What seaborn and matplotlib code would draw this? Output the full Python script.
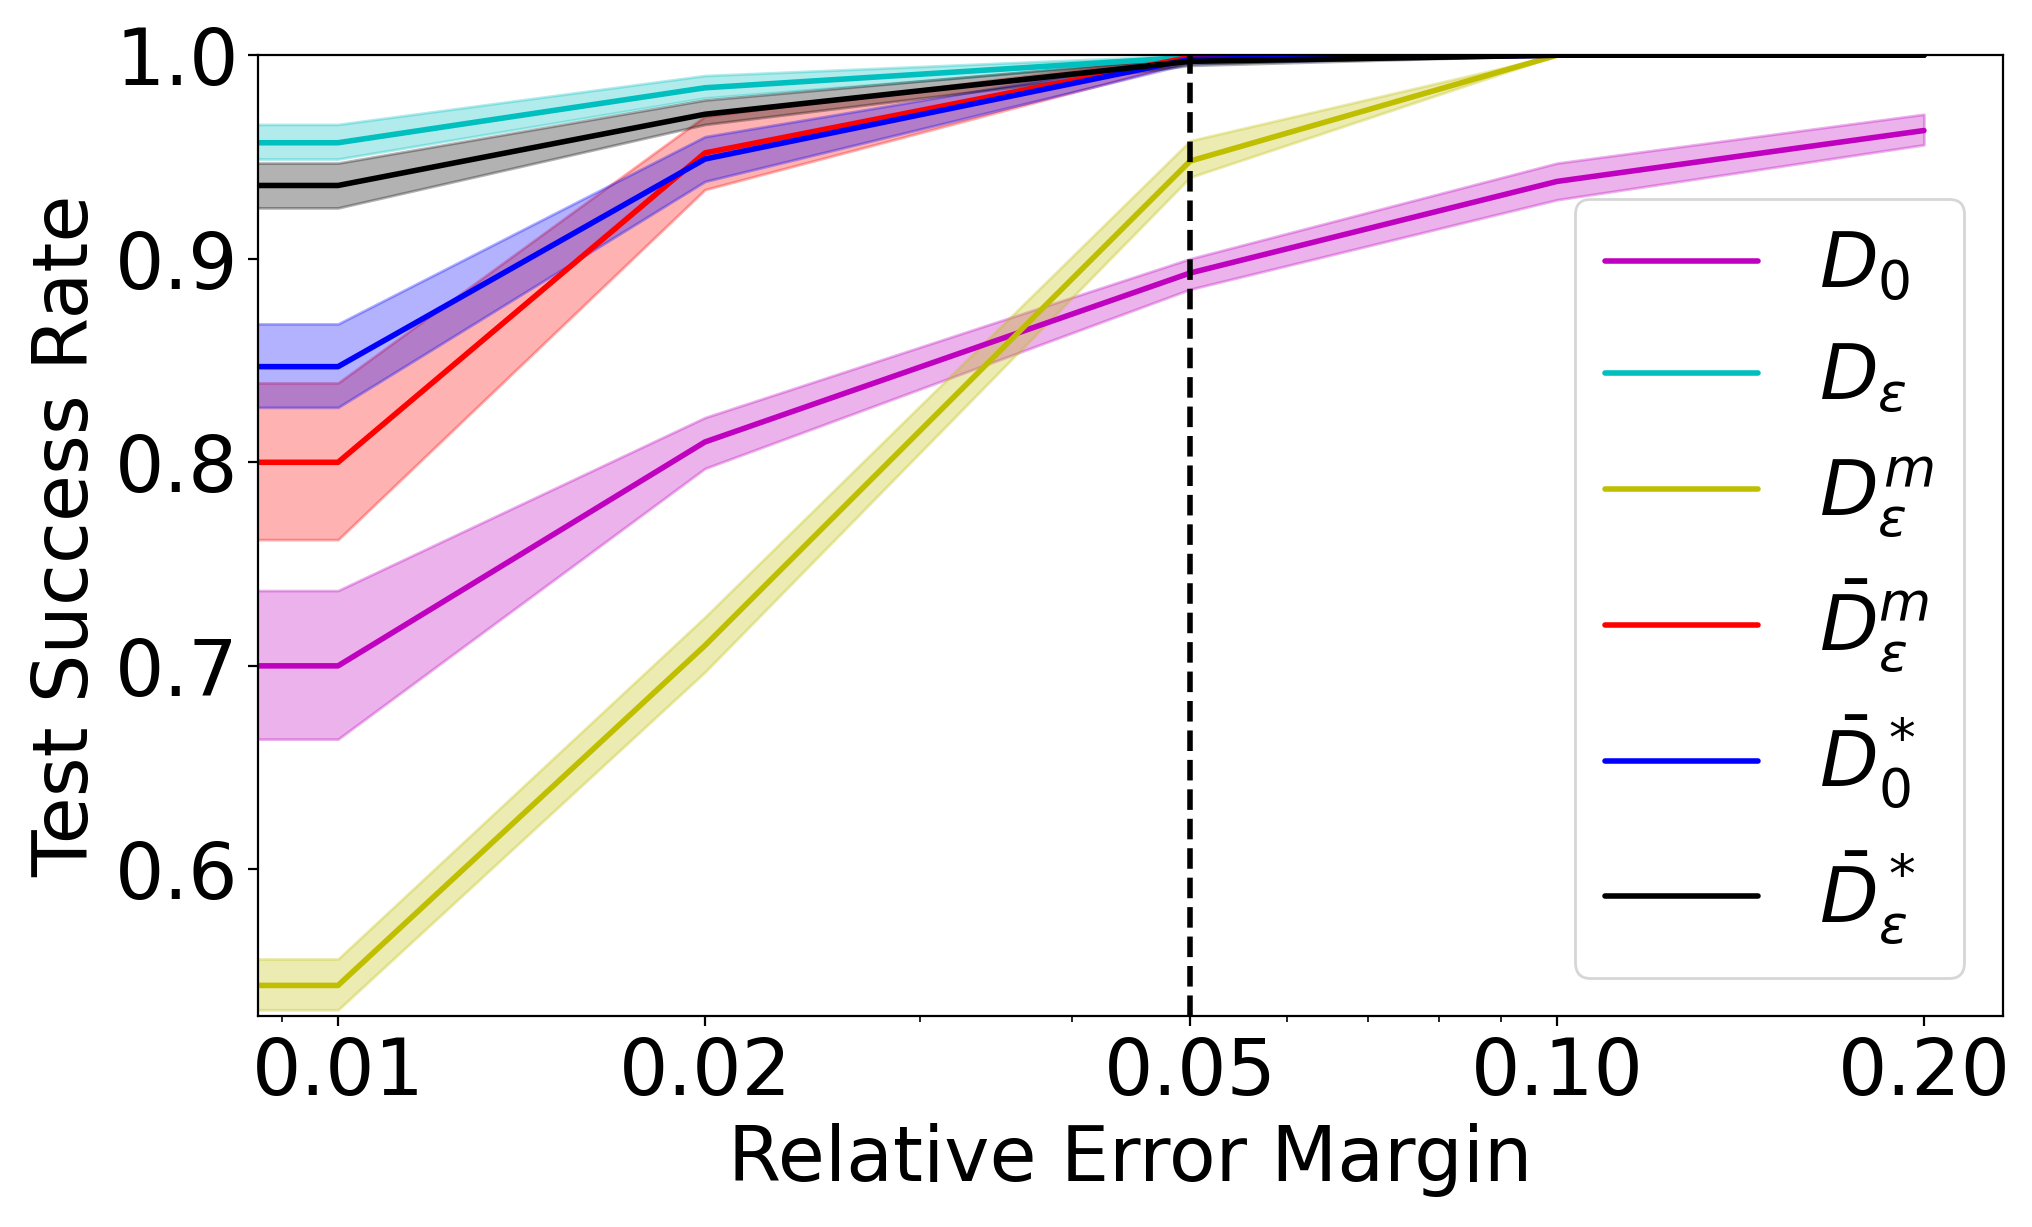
import numpy as np
import pandas as pd
import seaborn as sns
import matplotlib
matplotlib.use('Agg')
import matplotlib.pyplot as plt
from matplotlib.ticker import FixedLocator, FixedFormatter, NullFormatter

# relative error margins (first point sits just left of the axis, same value as 0.01)
margins = [0.008, 0.01, 0.02, 0.05, 0.10, 0.20]

d0_mean = [0.700, 0.700, 0.810, 0.893, 0.938, 0.963]
d0_low = [0.664, 0.664, 0.797, 0.885, 0.929, 0.956]
d0_high = [0.737, 0.737, 0.822, 0.900, 0.947, 0.971]

deps_mean = [0.957, 0.957, 0.984, 0.999, 1.000, 1.000]
deps_low = [0.949, 0.949, 0.979, 0.998, 1.000, 1.000]
deps_high = [0.966, 0.966, 0.990, 1.000, 1.000, 1.000]

depsm_mean = [0.543, 0.543, 0.710, 0.948, 1.000, 1.000]
depsm_low = [0.531, 0.531, 0.697, 0.940, 1.000, 1.000]
depsm_high = [0.556, 0.556, 0.724, 0.958, 1.000, 1.000]

bdepsm_mean = [0.800, 0.800, 0.952, 0.999, 1.000, 1.000]
bdepsm_low = [0.762, 0.762, 0.934, 0.997, 1.000, 1.000]
bdepsm_high = [0.839, 0.839, 0.970, 1.000, 1.000, 1.000]

bd0s_mean = [0.847, 0.847, 0.949, 0.998, 1.000, 1.000]
bd0s_low = [0.827, 0.827, 0.938, 0.996, 1.000, 1.000]
bd0s_high = [0.868, 0.868, 0.960, 1.000, 1.000, 1.000]

bdepss_mean = [0.936, 0.936, 0.971, 0.997, 1.000, 1.000]
bdepss_low = [0.925, 0.925, 0.966, 0.995, 1.000, 1.000]
bdepss_high = [0.947, 0.947, 0.978, 0.999, 1.000, 1.000]

labels = [r'$D_0$', r'$D_\varepsilon$', r'$D_\varepsilon^m$',
          r'$\bar{D}_\varepsilon^m$', r'$\bar{D}_0^*$', r'$\bar{D}_\varepsilon^*$']
colors = ['m', 'c', 'y', 'r', 'b', 'k']

means = [d0_mean, deps_mean, depsm_mean, bdepsm_mean, bd0s_mean, bdepss_mean]
lows = [d0_low, deps_low, depsm_low, bdepsm_low, bd0s_low, bdepss_low]
highs = [d0_high, deps_high, depsm_high, bdepsm_high, bd0s_high, bdepss_high]

sns.set_style('ticks', {'axes.edgecolor': 'black', 'text.color': 'black',
                        'axes.labelcolor': 'black', 'xtick.color': 'black',
                        'ytick.color': 'black'})
plt.rcParams['font.family'] = ['DejaVu Sans']

fig, ax = plt.subplots(figsize=(10.165, 6.135), dpi=200)

for lab, col, m, lo, hi in zip(labels, colors, means, lows, highs):
    df = pd.DataFrame({'margin': margins, 'rate': m})
    ax.fill_between(margins, lo, hi, color=col, alpha=0.3)
    sns.lineplot(data=df, x='margin', y='rate', color=col, linewidth=2,
                 label=lab, ax=ax, errorbar=None)

ax.axvline(0.05, color='k', linestyle='--', linewidth=2)

ax.set_xscale('log')
ax.set_xlim(0.0086, 0.232)
ax.set_ylim(0.528, 1.0)
ax.xaxis.set_major_locator(FixedLocator([0.01, 0.02, 0.05, 0.10, 0.20]))
ax.xaxis.set_major_formatter(FixedFormatter(['0.01', '0.02', '0.05', '0.10', '0.20']))
ax.xaxis.set_minor_formatter(NullFormatter())
ax.set_yticks([0.6, 0.7, 0.8, 0.9, 1.0])
ax.tick_params(labelsize=28)

ax.set_xlabel('Relative Error Margin', fontsize=27.5)
ax.set_ylabel('Test Success Rate', fontsize=27.5)

ax.legend(loc='lower right', fontsize=27.5)
for s in ax.spines.values():
    s.set_visible(True)

fig.subplots_adjust(left=0.127, right=0.985, top=0.955, bottom=0.172)
fig.savefig('out.png', dpi=200)
